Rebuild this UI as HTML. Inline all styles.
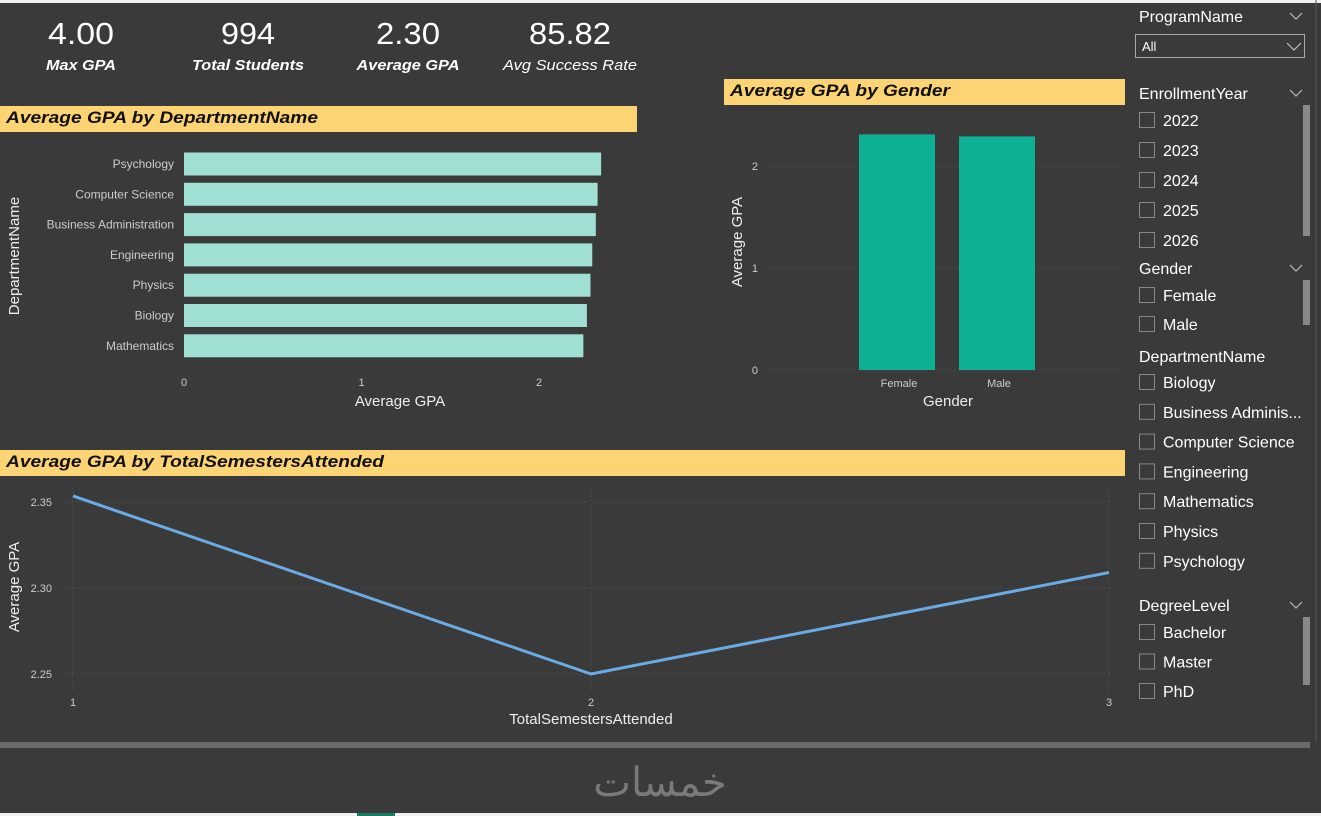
<!DOCTYPE html>
<html><head><meta charset="utf-8"><style>
body{margin:0;width:1321px;height:816px;overflow:hidden;background:#3a3a3a;font-family:"Liberation Sans",sans-serif}
svg{display:block}
</style></head><body>
<svg id="s" width="1321" height="816" xmlns="http://www.w3.org/2000/svg" font-family="Liberation Sans, sans-serif">
<rect width="1321" height="816" fill="#3a3a3a"/>
<rect x="0" y="0" width="1321" height="3" fill="#f0f0f0"/>
<rect x="0" y="813" width="1321" height="3" fill="#f0f0f0"/>
<rect x="357" y="813" width="38" height="3" fill="#1a7a64"/>
<rect x="0" y="742" width="1310" height="6" fill="#6a6a6a"/>
<text x="660" y="796" text-anchor="middle" font-size="40" fill="#7a7a7a" font-family="Noto Sans CJK SC, DejaVu Sans, sans-serif">خمسات</text>
<line x1="1316" y1="0" x2="1316" y2="742" stroke="#555"/>
<g fill="#fff" text-anchor="middle">
<text x="81" y="44" font-size="31" textLength="66" lengthAdjust="spacingAndGlyphs">4.00</text><text x="81" y="70" font-size="15" font-weight="bold" font-style="italic" textLength="70" lengthAdjust="spacingAndGlyphs">Max GPA</text>
<text x="248" y="44" font-size="31" textLength="54" lengthAdjust="spacingAndGlyphs">994</text><text x="248" y="70" font-size="15" font-weight="bold" font-style="italic" textLength="112" lengthAdjust="spacingAndGlyphs">Total Students</text>
<text x="408" y="44" font-size="31" textLength="64" lengthAdjust="spacingAndGlyphs">2.30</text><text x="408" y="70" font-size="15" font-weight="bold" font-style="italic" textLength="103" lengthAdjust="spacingAndGlyphs">Average GPA</text>
<text x="570" y="44" font-size="31" textLength="82" lengthAdjust="spacingAndGlyphs">85.82</text><text x="570" y="70" font-size="15" font-style="italic" textLength="134" lengthAdjust="spacingAndGlyphs">Avg Success Rate</text>
</g>
<rect x="0" y="106" width="637" height="26" fill="#fdd473"/>
<text x="6" y="123" font-size="17" font-weight="bold" font-style="italic" fill="#111" textLength="312" lengthAdjust="spacingAndGlyphs">Average GPA by DepartmentName</text>
<rect x="724" y="79" width="401" height="26" fill="#fdd473"/>
<text x="730" y="96" font-size="17" font-weight="bold" font-style="italic" fill="#111" textLength="220" lengthAdjust="spacingAndGlyphs">Average GPA by Gender</text>
<rect x="0" y="450" width="1125" height="26" fill="#fdd473"/>
<text x="6" y="467" font-size="17" font-weight="bold" font-style="italic" fill="#111" textLength="378" lengthAdjust="spacingAndGlyphs">Average GPA by TotalSemestersAttended</text>
<g id="dept"></g><g id="gender"></g><g id="line"></g><g id="slicers"></g>
</svg>
<script>
const deptCats=["Psychology","Computer Science","Business Administration","Engineering","Physics","Biology","Mathematics"];
const deptVals=[2.35,2.33,2.32,2.30,2.29,2.27,2.25];
const deptTicks=[0,1,2];
const genderCats=["Female","Male"];
const genderVals=[2.31,2.29];
const genderTicks=[0,1,2];
const semCats=[1,2,3];
const semVals=[2.3535,2.25,2.309];
const semTicks=[2.25,2.30,2.35];
const NS="http://www.w3.org/2000/svg";
function mk(p,t,a,txt){const e=document.createElementNS(NS,t);for(const k in a)e.setAttribute(k,a[k]);if(txt!=null)e.textContent=txt;p.appendChild(e);return e;}
// dept
const gd=document.getElementById('dept');
const dx=v=>184+v*177.5, dy=i=>164+i*30.3;
deptTicks.forEach(t=>{const e=mk(gd,'text',{x:dx(t),y:386,'font-size':11,fill:'#ccc','text-anchor':'middle'},t);});
deptCats.forEach((c,i)=>{
 const r=mk(gd,'rect',{x:dx(0),y:dy(i)-11.5,width:dx(deptVals[i])-dx(0),height:23,fill:'#a0e0d4'});
 
 const t=mk(gd,'text',{x:174,y:dy(i)+4,'font-size':12,fill:'#ccc','text-anchor':'end'},c);
 
});
let e=mk(gd,'text',{x:400,y:406,'font-size':15,fill:'#eee','text-anchor':'middle'},'Average GPA');
e=mk(gd,'text',{x:19,y:256,'font-size':15,fill:'#eee','text-anchor':'middle',transform:'rotate(-90 19 256)'},'DepartmentName');
// gender
const gg=document.getElementById('gender');
const gy=v=>370-v*102, gx=i=>897+i*100;
genderTicks.forEach(t=>{mk(gg,'line',{x1:770,x2:1120,y1:gy(t),y2:gy(t),stroke:'#555','stroke-dasharray':'1 3'});
 const e=mk(gg,'text',{x:758,y:gy(t)+4,'font-size':11,fill:'#ccc','text-anchor':'end'},t);});
genderCats.forEach((c,i)=>{
 const r=mk(gg,'rect',{x:gx(i)-38,y:gy(genderVals[i]),width:76,height:gy(0)-gy(genderVals[i]),fill:'#0fb194'});
 
 const t=mk(gg,'text',{x:gx(i)+2,y:387,'font-size':11,fill:'#ccc','text-anchor':'middle'},c);
 
});
e=mk(gg,'text',{x:948,y:406,'font-size':15,fill:'#eee','text-anchor':'middle'},'Gender');
e=mk(gg,'text',{x:742,y:242,'font-size':15,fill:'#eee','text-anchor':'middle',transform:'rotate(-90 742 242)'},'Average GPA');
// line
const gl=document.getElementById('line');
const lx=v=>73+(v-1)*518, ly=v=>588-(v-2.30)*1720;
semTicks.forEach(t=>{mk(gl,'line',{x1:60,x2:1115,y1:ly(t),y2:ly(t),stroke:'#555','stroke-dasharray':'1 3'});
 const e=mk(gl,'text',{x:52,y:ly(t)+4,'font-size':11,fill:'#ccc','text-anchor':'end'},t.toFixed(2));});
semCats.forEach(c=>{mk(gl,'line',{x1:lx(c),x2:lx(c),y1:484,y2:690,stroke:'#555','stroke-dasharray':'1 3'});
 const e=mk(gl,'text',{x:lx(c),y:706,'font-size':11,fill:'#ccc','text-anchor':'middle'},c);});
const pl=mk(gl,'polyline',{points:semCats.map((c,i)=>lx(c)+','+ly(semVals[i])).join(' '),fill:'none',stroke:'#6aabe6','stroke-width':3});

e=mk(gl,'text',{x:591,y:724,'font-size':15,fill:'#eee','text-anchor':'middle'},'TotalSemestersAttended');
e=mk(gl,'text',{x:19,y:587,'font-size':15,fill:'#eee','text-anchor':'middle',transform:'rotate(-90 19 587)'},'Average GPA');
// slicers
const gs=document.getElementById('slicers');
function chev(x,y){mk(gs,'polyline',{points:`${x},${y} ${x+6},${y+6} ${x+12},${y}`,fill:'none',stroke:'#bbb','stroke-width':1.2});}
function head(t,y,name){const e=mk(gs,'text',{x:1139,y:y,'font-size':16,fill:'#fff'},t);chev(1290,y-9);}
function item(t,y){const r=mk(gs,'rect',{x:1139.5,y:y-13.5,width:15,height:15,fill:'none',stroke:'#888'});
 const e=mk(gs,'text',{x:1163,y:y,'font-size':16,fill:'#fff'},t);}
head('ProgramName',22,'program-slicer-title');
const dd=mk(gs,'rect',{x:1135.5,y:34.5,width:169,height:23,fill:'none',stroke:'#aaa'});
mk(gs,'text',{x:1142,y:51,'font-size':13,fill:'#fff'},'All');
mk(gs,'polyline',{points:'1287,43 1294,50 1301,43',fill:'none',stroke:'#bbb','stroke-width':1.2});
head('EnrollmentYear',99,'year-slicer-title');
['2022','2023','2024','2025','2026'].forEach((t,i)=>item(t,126+i*30));
mk(gs,'rect',{x:1303,y:105,width:7,height:131,fill:'#888'});
head('Gender',274,'gender-slicer-title');
['Female','Male'].forEach((t,i)=>item(t,301+i*29));
mk(gs,'rect',{x:1303,y:280,width:7,height:45,fill:'#888'});
e=mk(gs,'text',{x:1139,y:362,'font-size':16,fill:'#fff'},'DepartmentName');
['Biology','Business Adminis...','Computer Science','Engineering','Mathematics','Physics','Psychology'].forEach((t,i)=>item(t,388+i*29.8));
head('DegreeLevel',611,'degree-slicer-title');
['Bachelor','Master','PhD'].forEach((t,i)=>item(t,638+i*29.5));
mk(gs,'rect',{x:1303,y:617,width:7,height:68,fill:'#888'});
</script>
</body></html>
